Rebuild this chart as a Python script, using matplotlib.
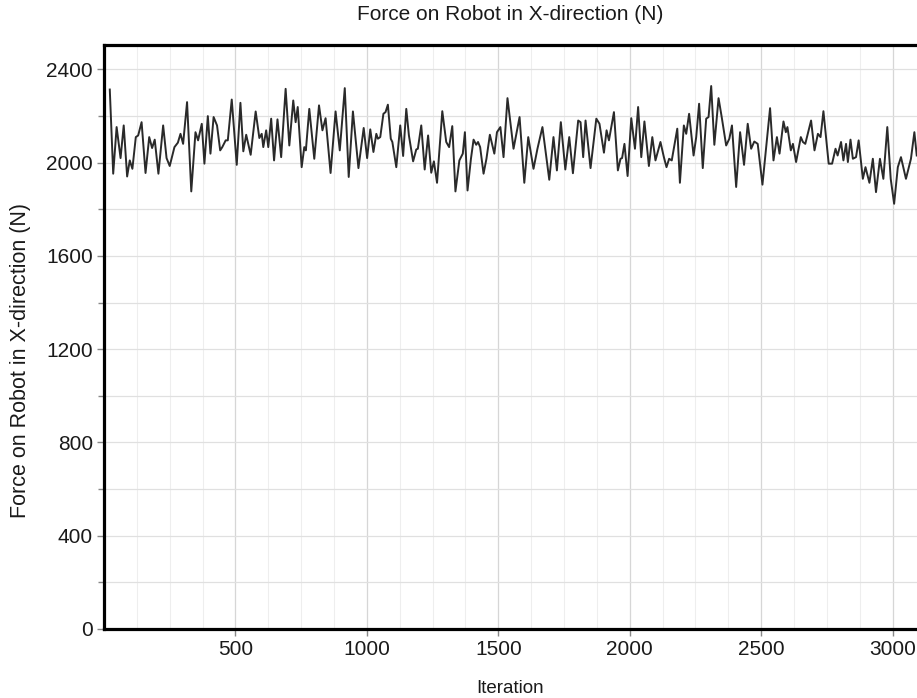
import matplotlib.pyplot as plt
from matplotlib.ticker import MultipleLocator

# values (peaks / troughs of the trace)
iterations = [
    22, 35, 48, 63, 75, 88, 98, 108, 121, 130, 143, 158, 172, 183, 193, 207,
    225, 238, 250, 268, 281, 291, 301, 316, 332, 348, 358, 372, 382, 395, 405,
    417, 430, 442, 450, 463, 471, 486, 505, 519, 530, 541, 558, 577, 591, 600,
    606, 617, 625, 636, 647, 660, 674, 691, 705, 720, 729, 737, 752, 762, 768,
    781, 800, 818, 831, 843, 862, 881, 897, 916, 931, 947, 968, 988, 1001,
    1013, 1025, 1036, 1042, 1051, 1063, 1071, 1080, 1091, 1097, 1112, 1127,
    1138, 1150, 1160, 1176, 1188, 1194, 1207, 1220, 1233, 1245, 1255, 1267,
    1287, 1302, 1313, 1325, 1337, 1352, 1365, 1373, 1383, 1396, 1406, 1416,
    1423, 1431, 1444, 1455, 1468, 1485, 1495, 1508, 1520, 1535, 1546, 1558,
    1581, 1599, 1614, 1634, 1649, 1668, 1694, 1710, 1723, 1738, 1755, 1770,
    1784, 1804, 1813, 1823, 1832, 1851, 1873, 1885, 1902, 1912, 1921, 1940,
    1955, 1965, 1971, 1980, 1992, 2006, 2020, 2032, 2044, 2056, 2073, 2086,
    2098, 2117, 2130, 2140, 2150, 2160, 2181, 2191, 2206, 2215, 2226, 2243,
    2253, 2264, 2278, 2291, 2300, 2310, 2322, 2338, 2350, 2367, 2379, 2389,
    2405, 2420, 2435, 2449, 2462, 2474, 2487, 2505, 2534, 2547, 2560, 2570,
    2585, 2594, 2600, 2613, 2621, 2633, 2651, 2659, 2668, 2690, 2703, 2716,
    2726, 2737, 2757, 2770, 2783, 2791, 2804, 2813, 2823, 2830, 2840, 2849,
    2861, 2871, 2887, 2897, 2912, 2925, 2937, 2952, 2965, 2980, 2993, 3006,
    3020, 3032, 3051, 3070, 3083, 3092,
]
force_x = [
    2314, 1953, 2153, 2020, 2160, 1941, 2010, 1974, 2110, 2117, 2174, 1956,
    2110, 2063, 2099, 1953, 2160, 2020, 1986, 2067, 2086, 2124, 2081, 2260,
    1877, 2131, 2096, 2167, 1996, 2200, 2039, 2196, 2160, 2053, 2067, 2096,
    2096, 2271, 1991, 2257, 2049, 2120, 2034, 2220, 2106, 2124, 2067, 2139,
    2067, 2189, 2010, 2186, 2024, 2317, 2074, 2267, 2174, 2239, 1981, 2067,
    2053, 2231, 2017, 2246, 2139, 2191, 1956, 2220, 2053, 2320, 1939, 2220,
    1977, 2149, 2020, 2143, 2046, 2124, 2103, 2110, 2210, 2217, 2249, 2103,
    2089, 1981, 2160, 2029, 2231, 2117, 2006, 2057, 2060, 2160, 1971, 2117,
    1957, 2006, 1914, 2221, 2089, 2067, 2157, 1877, 2010, 2039, 2131, 1881,
    2017, 2099, 2077, 2089, 2067, 1953, 2017, 2120, 2039, 2131, 2153, 2024,
    2277, 2174, 2060, 2196, 1914, 2110, 1974, 2060, 2153, 1927, 2110, 1967,
    2174, 1971, 2110, 1955, 2181, 2174, 2024, 2181, 1977, 2189, 2167, 2043,
    2139, 2096, 2217, 1967, 2017, 2020, 2081, 1943, 2191, 2060, 2239, 2024,
    2177, 1986, 2110, 2010, 2089, 2024, 1981, 2017, 2010, 2146, 1914, 2160,
    2124, 2210, 2031, 2110, 2253, 1977, 2189, 2196, 2329, 2077, 2277, 2196,
    2074, 2103, 2160, 1896, 2131, 1991, 2167, 2060, 2091, 2081, 1906, 2234,
    2010, 2110, 2039, 2177, 2131, 2153, 2053, 2081, 2003, 2110, 2089, 2081,
    2181, 2053, 2124, 2110, 2221, 1996, 1996, 2060, 2031, 2089, 2010, 2081,
    2003, 2099, 2017, 2024, 2096, 1931, 1981, 1914, 2017, 1874, 2017, 1931,
    2153, 1931, 1824, 1981, 2024, 1931, 2017, 2131, 2031,
]

title = "Force on Robot in X-direction (N)"
x_label = "Iteration"
y_label = "Force on Robot in X-direction (N)"

plt.rcParams['font.family'] = ['Liberation Sans', 'DejaVu Sans']

fig = plt.figure(figsize=(9.17, 6.98), dpi=100)
ax = fig.add_axes([104 / 917, 69 / 698, 813 / 917, 584 / 698])

ax.plot(iterations, force_x, color='#2a2a2a', lw=1.4, solid_joinstyle='round')

ax.set_xlim(0, 3093)
ax.set_ylim(0, 2505)
ax.xaxis.set_major_locator(MultipleLocator(500))
ax.xaxis.set_minor_locator(MultipleLocator(125))
ax.yaxis.set_major_locator(MultipleLocator(400))
ax.yaxis.set_minor_locator(MultipleLocator(200))
ax.set_xticks([500, 1000, 1500, 2000, 2500, 3000])

ax.grid(which='major', axis='x', color='#d6d6d6', lw=0.9)
ax.grid(which='minor', axis='x', color='#eeeeee', lw=0.8)
ax.grid(which='both', axis='y', color='#e0e0e0', lw=0.9)
ax.set_axisbelow(True)

for side in ['left', 'bottom', 'top']:
    ax.spines[side].set_linewidth(2.3)
    ax.spines[side].set_color('black')
ax.spines['right'].set_visible(False)

ax.tick_params(which='major', length=5, width=1, color='#888888',
               labelsize=15, labelcolor='#1a1a1a', pad=3)
ax.tick_params(which='minor', axis='y', length=4, width=1, color='#888888')
ax.tick_params(which='minor', axis='x', length=0)

ax.set_title(title, fontsize=15, color='#1a1a1a', pad=18)
ax.set_xlabel(x_label, fontsize=13.5, color='#1a1a1a', labelpad=15)
ax.set_ylabel(y_label, fontsize=15.5, color='#1a1a1a')
ax.yaxis.set_label_coords(-0.09, 0.459)

fig.savefig('out.png', dpi=100)
